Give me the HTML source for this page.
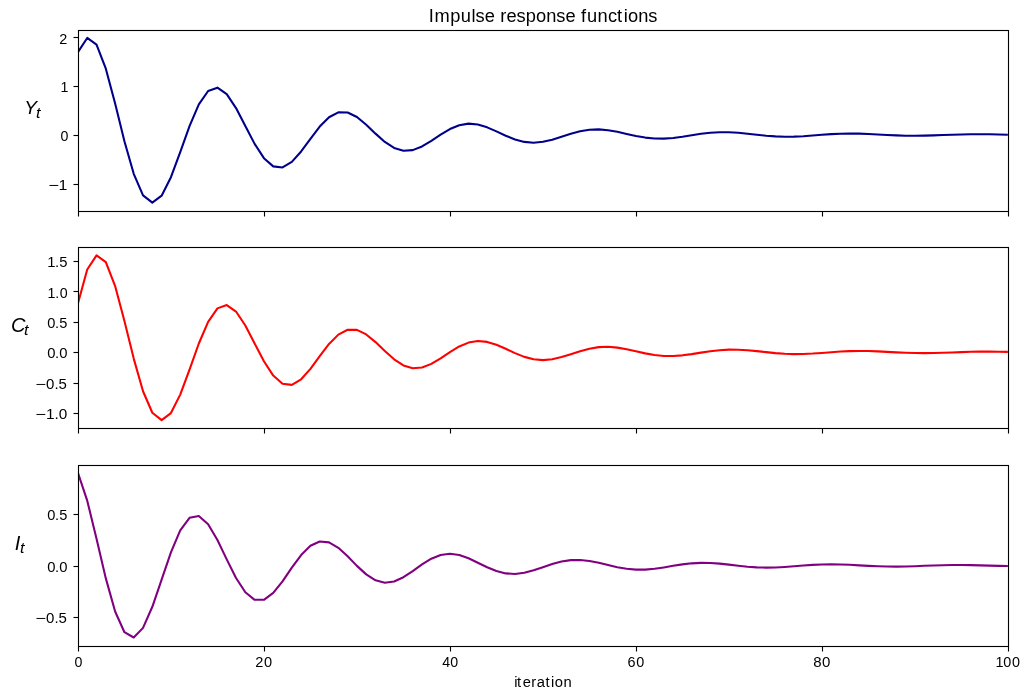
<!DOCTYPE html>
<html lang="en">
<head>
<meta charset="utf-8">
<title>Impulse response functions</title>
<style>
html,body{margin:0;padding:0;background:#ffffff;}
body{width:1031px;height:699px;overflow:hidden;font-family:"Liberation Sans",sans-serif;}
svg{display:block;}
text{font-family:"Liberation Sans",sans-serif;fill:#000000;}
.tx{filter:grayscale(1);}
.sp{fill:none;stroke:#000000;stroke-width:1.111;}
.tk{fill:#000000;stroke:none;}
.ln{fill:none;stroke-width:2.083;stroke-linejoin:round;stroke-linecap:butt;}
</style>
</head>
<body>
<svg width="1031" height="699" viewBox="0 0 1031 699">
<rect x="0" y="0" width="1031" height="699" fill="#ffffff"/>
<defs>
<clipPath id="c0"><rect x="77.927" y="29.722" width="930" height="181.176"/></clipPath>
<clipPath id="c1"><rect x="77.927" y="247.134" width="930" height="181.176"/></clipPath>
<clipPath id="c2"><rect x="77.927" y="464.546" width="930" height="181.176"/></clipPath>
</defs>
<!-- axes 1 -->
<g>
<polyline class="ln" clip-path="url(#c0)" stroke="#00008b" points="77.93,52.08 87.23,37.96 96.53,44.63 105.83,68.67 115.13,103.55 124.43,141.20 133.73,173.81 143.03,195.37 152.33,202.66 161.63,195.67 170.93,177.21 180.23,152.12 189.53,126.08 198.83,104.41 208.13,90.98 217.43,87.67 226.73,94.13 236.03,108.08 245.33,125.99 254.63,143.88 263.93,158.17 273.23,166.37 282.53,167.44 291.83,161.89 301.13,151.48 310.43,138.78 319.73,126.57 329.03,117.23 338.33,112.35 347.63,112.46 356.93,117.03 366.23,124.71 375.53,133.64 384.83,141.93 394.13,147.97 403.43,150.78 412.73,150.12 422.03,146.47 431.33,140.86 440.63,134.61 449.93,129.03 459.23,125.17 468.53,123.63 477.83,124.49 487.13,127.33 496.43,131.39 505.73,135.73 515.03,139.47 524.33,141.90 533.63,142.68 542.93,141.81 552.23,139.64 561.53,136.72 570.83,133.72 580.13,131.25 589.43,129.74 598.73,129.40 608.03,130.19 617.33,131.82 626.63,133.90 635.93,135.96 645.23,137.59 654.53,138.51 663.83,138.60 673.13,137.93 682.43,136.71 691.73,135.24 701.03,133.84 710.33,132.78 719.63,132.23 728.93,132.27 738.23,132.81 747.53,133.71 756.83,134.74 766.13,135.69 775.43,136.38 784.73,136.69 794.03,136.60 803.33,136.17 812.63,135.51 821.93,134.79 831.23,134.15 840.53,133.71 849.83,133.55 859.13,133.66 868.43,133.99 877.73,134.46 887.03,134.96 896.33,135.39 905.63,135.67 914.93,135.75 924.23,135.64 933.53,135.39 942.83,135.05 952.13,134.70 961.43,134.42 970.73,134.25 980.03,134.22 989.33,134.31 998.63,134.50 1007.93,134.74"/>
<rect class="tk" x="73.5" y="36.9445" width="5" height="1.111"/>
<rect class="tk" x="73.5" y="85.9445" width="5" height="1.111"/>
<rect class="tk" x="73.5" y="134.9445" width="5" height="1.111"/>
<rect class="tk" x="73.5" y="183.9445" width="5" height="1.111"/>
<rect class="tk" x="77.9445" y="211.5" width="1.111" height="5"/>
<rect class="tk" x="263.9445" y="211.5" width="1.111" height="5"/>
<rect class="tk" x="449.9445" y="211.5" width="1.111" height="5"/>
<rect class="tk" x="635.9445" y="211.5" width="1.111" height="5"/>
<rect class="tk" x="821.9445" y="211.5" width="1.111" height="5"/>
<rect class="tk" x="1007.9445" y="211.5" width="1.111" height="5"/>
<rect class="sp" x="78.5" y="30.5" width="930" height="181"/>
</g>
<!-- axes 2 -->
<g>
<polyline class="ln" clip-path="url(#c1)" stroke="#ff0000" points="77.93,303.57 87.23,269.49 96.53,255.37 105.83,262.04 115.13,286.09 124.43,320.96 133.73,358.61 143.03,391.22 152.33,412.78 161.63,420.07 170.93,413.08 180.23,394.62 189.53,369.53 198.83,343.50 208.13,321.82 217.43,308.39 226.73,305.09 236.03,311.54 245.33,325.50 254.63,343.41 263.93,361.29 273.23,375.59 282.53,383.78 291.83,384.85 301.13,379.30 310.43,368.89 319.73,356.20 329.03,343.98 338.33,334.64 347.63,329.76 356.93,329.87 366.23,334.44 375.53,342.12 384.83,351.06 394.13,359.34 403.43,365.38 412.73,368.19 422.03,367.53 431.33,363.88 440.63,358.28 449.93,352.03 459.23,346.45 468.53,342.59 477.83,341.05 487.13,341.90 496.43,344.74 505.73,348.80 515.03,353.15 524.33,356.88 533.63,359.31 542.93,360.09 552.23,359.23 561.53,357.05 570.83,354.14 580.13,351.14 589.43,348.66 598.73,347.15 608.03,346.81 617.33,347.60 626.63,349.24 635.93,351.31 645.23,353.37 654.53,355.00 663.83,355.92 673.13,356.01 682.43,355.34 691.73,354.13 701.03,352.65 710.33,351.25 719.63,350.19 728.93,349.65 738.23,349.68 747.53,350.22 756.83,351.12 766.13,352.16 775.43,353.11 784.73,353.79 794.03,354.10 803.33,354.01 812.63,353.58 821.93,352.92 831.23,352.20 840.53,351.56 849.83,351.13 859.13,350.96 868.43,351.07 877.73,351.40 887.03,351.88 896.33,352.38 905.63,352.80 914.93,353.08 924.23,353.16 933.53,353.05 942.83,352.80 952.13,352.46 961.43,352.11 970.73,351.83 980.03,351.66 989.33,351.63 998.63,351.72 1007.93,351.91"/>
<rect class="tk" x="73.5" y="260.9445" width="5" height="1.111"/>
<rect class="tk" x="73.5" y="290.9445" width="5" height="1.111"/>
<rect class="tk" x="73.5" y="321.9445" width="5" height="1.111"/>
<rect class="tk" x="73.5" y="351.9445" width="5" height="1.111"/>
<rect class="tk" x="73.5" y="382.9445" width="5" height="1.111"/>
<rect class="tk" x="73.5" y="412.9445" width="5" height="1.111"/>
<rect class="tk" x="77.9445" y="428.5" width="1.111" height="5"/>
<rect class="tk" x="263.9445" y="428.5" width="1.111" height="5"/>
<rect class="tk" x="449.9445" y="428.5" width="1.111" height="5"/>
<rect class="tk" x="635.9445" y="428.5" width="1.111" height="5"/>
<rect class="tk" x="821.9445" y="428.5" width="1.111" height="5"/>
<rect class="tk" x="1007.9445" y="428.5" width="1.111" height="5"/>
<rect class="sp" x="78.5" y="247.5" width="930" height="181"/>
</g>
<!-- axes 3 -->
<g>
<polyline class="ln" clip-path="url(#c2)" stroke="#800080" points="77.93,472.78 87.23,500.65 96.53,538.73 105.83,578.39 115.13,611.54 124.43,632.20 133.73,637.49 143.03,627.88 152.33,606.79 161.63,579.59 170.93,552.32 180.23,530.44 189.53,517.80 198.83,516.00 208.13,524.31 217.43,540.06 226.73,559.35 236.03,577.98 245.33,592.28 254.63,599.83 263.93,599.79 273.23,592.93 282.53,581.30 291.83,567.71 301.13,555.07 310.43,545.81 319.73,541.45 329.03,542.36 338.33,547.85 347.63,556.35 356.93,565.86 366.23,574.39 375.53,580.31 384.83,582.72 394.13,581.47 403.43,577.18 412.73,571.03 422.03,564.41 431.33,558.71 440.63,554.97 449.93,553.74 459.23,555.02 468.53,558.30 477.83,562.73 487.13,567.30 496.43,571.08 505.73,573.41 515.03,573.95 524.33,572.78 533.63,570.31 542.93,567.15 552.23,564.01 561.53,561.52 570.83,560.10 580.13,559.94 589.43,560.94 598.73,562.78 608.03,565.02 617.33,567.16 626.63,568.79 635.93,569.63 645.23,569.59 654.53,568.77 663.83,567.41 673.13,565.84 682.43,564.39 691.73,563.34 701.03,562.86 710.33,562.99 719.63,563.64 728.93,564.63 738.23,565.73 747.53,566.70 756.83,567.38 766.13,567.64 775.43,567.48 784.73,566.97 794.03,566.26 803.33,565.49 812.63,564.84 821.93,564.42 831.23,564.29 840.53,564.44 849.83,564.83 859.13,565.35 868.43,565.87 877.73,566.30 887.03,566.57 896.33,566.62 905.63,566.48 914.93,566.19 924.23,565.82 933.53,565.46 942.83,565.18 952.13,565.02 961.43,565.01 970.73,565.12 980.03,565.34 989.33,565.60 998.63,565.85 1007.93,566.03"/>
<rect class="tk" x="73.5" y="513.9445" width="5" height="1.111"/>
<rect class="tk" x="73.5" y="565.9445" width="5" height="1.111"/>
<rect class="tk" x="73.5" y="616.9445" width="5" height="1.111"/>
<rect class="tk" x="77.9445" y="646.5" width="1.111" height="5"/>
<rect class="tk" x="263.9445" y="646.5" width="1.111" height="5"/>
<rect class="tk" x="449.9445" y="646.5" width="1.111" height="5"/>
<rect class="tk" x="635.9445" y="646.5" width="1.111" height="5"/>
<rect class="tk" x="821.9445" y="646.5" width="1.111" height="5"/>
<rect class="tk" x="1007.9445" y="646.5" width="1.111" height="5"/>
<rect class="sp" x="78.5" y="465.5" width="930" height="181"/>
</g>
<!-- text labels -->
<g class="tx">
<text x="59.31" y="43.50" font-size="14.4">2</text>
<text x="60.56" y="92.00" font-size="14.2">1</text>
<text x="60.56" y="141.00" font-size="14.2">0</text>
<text y="190.00" font-size="14.2"><tspan x="48.30" textLength="10.65" lengthAdjust="spacingAndGlyphs">−</tspan><tspan x="58.56" textLength="8.84" lengthAdjust="spacingAndGlyphs">1</tspan></text>
<text x="47.31 54.98 59.2" y="267.00" font-size="14.8">1.5</text>
<text x="47.56 55.29 59.65" y="298.00" font-size="14.2">1.0</text>
<text x="47.31 54.98 59.2" y="328.00" font-size="14.6">0.5</text>
<text x="47.31 54.98 59.2" y="357.50" font-size="14.8">0.0</text>
<text y="389.00" font-size="13.8"><tspan x="35.30" textLength="10.65" lengthAdjust="spacingAndGlyphs">−</tspan><tspan x="46.06" textLength="20.84" lengthAdjust="spacingAndGlyphs">0.5</tspan></text>
<text y="419.00" font-size="14"><tspan x="35.30" textLength="10.65" lengthAdjust="spacingAndGlyphs">−</tspan><tspan x="46.06" textLength="21.34" lengthAdjust="spacingAndGlyphs">1.0</tspan></text>
<text x="47.31 54.98 59.2" y="520.00" font-size="14.6">0.5</text>
<text x="47.31 54.98 59.2" y="571.50" font-size="14.8">0.0</text>
<text y="623.00" font-size="13.8"><tspan x="35.30" textLength="10.65" lengthAdjust="spacingAndGlyphs">−</tspan><tspan x="46.06" textLength="20.84" lengthAdjust="spacingAndGlyphs">0.5</tspan></text>
<text x="74.58" y="667.00" font-size="14.2">0</text>
<text x="255.16 263.99" y="667.00" font-size="14.6">20</text>
<text x="442.16 450.24" y="667.00" font-size="14.2">40</text>
<text x="627.41 636.24" y="667.00" font-size="14.4">60</text>
<text x="813.16 821.98" y="667.00" font-size="15">80</text>
<text x="995.5 1003.25 1012" y="667.00" font-size="14.4">100</text>
<text x="428.79 434.46 450.24 460.86 471.47 475.62 484.69 494.8 500.24 506.44 516.55 525.87 536 546.35 556.23 565.55 576.67 581.09 587.03 597.39 608.01 617.08 623.75 627.9 638.26 648.13" y="21.50" font-size="18.25">Impulse response functions</text>
<text x="514.16 517.08 522.69 531.15 536.66 545.61 550.97 554.64 563.62" y="687.00" font-size="14.75">iteration</text>
<text y="114.00" font-size="19" font-style="italic"><tspan x="24.25" textLength="12.75" lengthAdjust="spacingAndGlyphs">Y</tspan><tspan x="36.00" dy="4.0" font-size="13.9" textLength="4.50" lengthAdjust="spacingAndGlyphs">t</tspan></text>
<text y="331.50" font-size="20.5" font-style="italic"><tspan x="11.00" textLength="14.50" lengthAdjust="spacingAndGlyphs">C</tspan><tspan x="24.00" dy="3.5" font-size="14.1" textLength="4.50" lengthAdjust="spacingAndGlyphs">t</tspan></text>
<text y="550.00" font-size="20.75" font-style="italic"><tspan x="14.75" textLength="5.60" lengthAdjust="spacingAndGlyphs">I</tspan><tspan x="20.00" dy="3" font-size="14.1" textLength="4.50" lengthAdjust="spacingAndGlyphs">t</tspan></text>
</g>
</svg>
</body>
</html>
